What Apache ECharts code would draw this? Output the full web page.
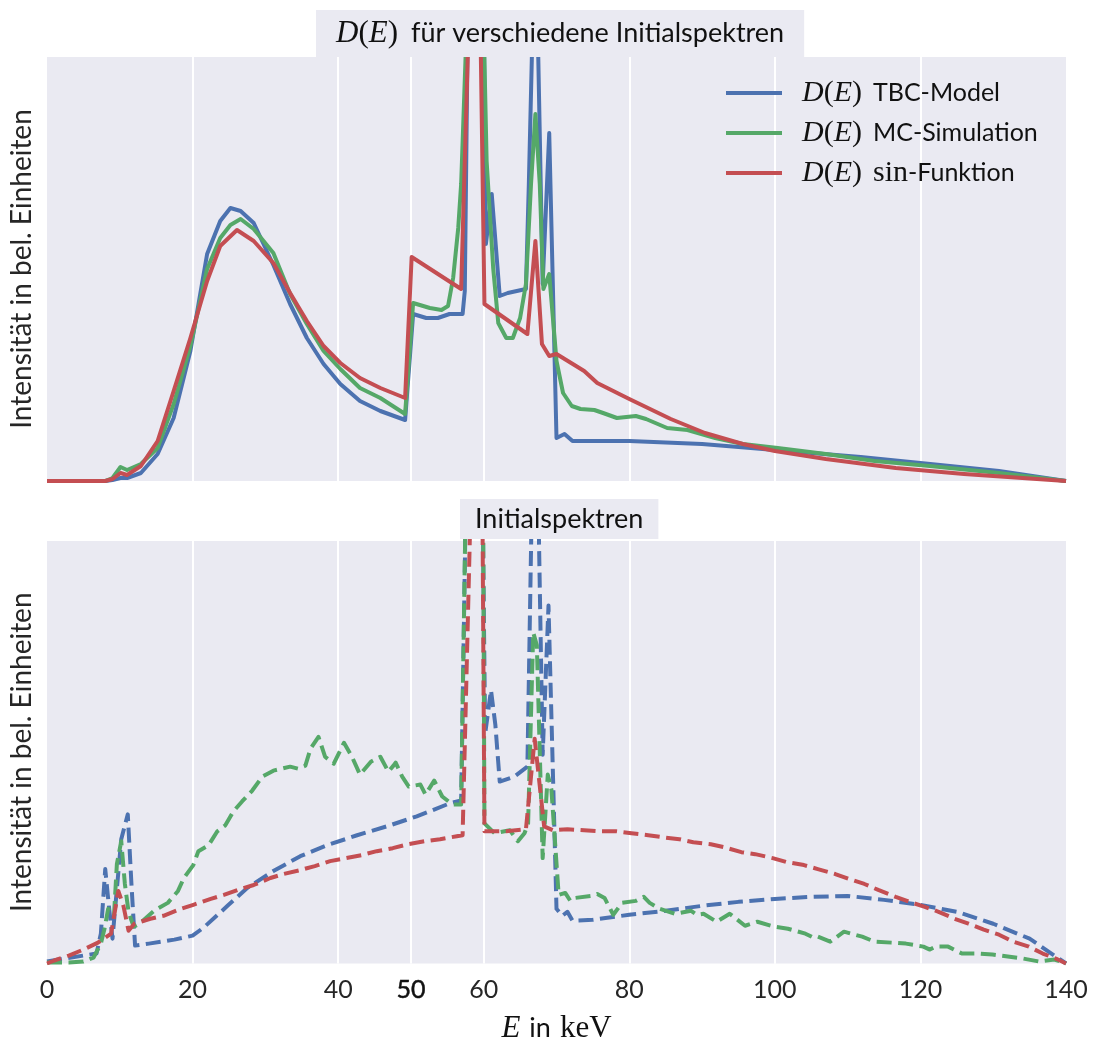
<!DOCTYPE html>
<html><head><meta charset="utf-8">
<script src="https://cdn.jsdelivr.net/npm/echarts@6/dist/echarts.min.js"></script>
<style>html,body{margin:0;padding:0;background:#fff}#c{width:1094px;height:1045px}</style>
</head><body><div id="c"></div>
<script>
// ---- data: [E in keV, intensity in arbitrary units] ----
const energyTicks = [0, 20, 40, 60, 80, 100, 120, 140];
const extraTick = 50;

// D(E) (top panel)
const tbcD = [[0,0],[8,0],[9,1],[10.1,3],[11,3],[12.9,8],[15.2,27],[17.4,63],[19.7,130],[22,227],[23.8,260],[25.2,273],[26.6,270],[28.4,258],[31.1,216],[33.4,177],[35.7,143],[38,117],[40.3,97],[43,80],[45.8,70],[49.2,61],[50.3,167],[52.1,163],[53.7,163],[55.3,167],[57.1,167],[57.4,190],[59,1230],[60.3,237],[61.1,287],[62.2,185],[63.3,188],[65.8,192],[66.2,297],[67.1,572],[68.1,197],[69,348],[70,43],[71.1,47],[72.2,40],[80,40],[90,37],[100,31],[111.8,24],[120,18],[130.8,10],[140,0]];
const mcD = [[0,0],[8,0],[9,3],[10.1,14],[11,11],[12.9,17],[15.2,33],[17.4,77],[19.7,135],[22,212],[23.8,243],[25.2,256],[26.6,262],[28.4,252],[31.1,228],[33.4,187],[35.7,157],[38,130],[40.3,112],[43,93],[45.8,83],[49.2,67],[50.3,178],[52.6,173],[54.2,171],[55.1,175],[55.8,203],[56.5,253],[56.9,297],[59.1,756],[60.4,320],[61.3,213],[62,158],[63.1,143],[64,143],[65,163],[65.8,197],[66.5,297],[67.1,367],[67.7,297],[68.2,192],[69,207],[70,120],[70.9,88],[72.1,75],[73.3,72],[75.2,71],[76.4,68],[78.3,63],[80.9,65],[82.3,62],[85.2,53],[88,51],[91.8,43],[95.6,37],[100.4,33],[107,27],[113.7,20],[121.3,15],[130.8,8],[140,0]];
const sinD = [[0,0],[8,0],[9,2],[10.1,8],[11,6],[12.9,15],[15.2,40],[17.4,90],[19.7,143],[22,200],[23.8,235],[26.1,251],[28.4,240],[31.1,218],[33.4,188],[35.7,160],[38,135],[40.3,118],[43,103],[45.8,93],[49.2,83],[50.1,224],[56.9,192],[59,730],[60.1,177],[66,147],[67.1,240],[68,137],[69,125],[70,127],[73.8,110],[75.6,98],[80,82],[85.7,62],[90.4,48],[95.6,37],[100,30],[107,22],[116.6,13],[126,7],[140,0]];

// initial spectra (bottom panel)
const tbcI = [[0,2],[2.5,5],[5,8],[6.8,10],[7.4,30],[8,95],[8.5,58],[9,25],[10.2,125],[11.1,150],[11.6,80],[12.1,18],[14,20],[17.5,24],[20,28],[21.5,36],[24.8,58],[27.5,76],[31.1,93],[34.8,108],[38.5,119],[42.6,129],[46.7,138],[50.8,148],[55.3,161],[56.9,164],[58.9,1100],[60.2,231],[61,275],[61.6,240],[62.2,183],[64.2,188],[66,198],[67.05,656],[68.1,210],[68.9,360],[70,55],[70.8,48],[71.5,52],[72.2,43],[75,44],[80,49],[85,53],[90,58],[95,62],[100,65],[105,67],[110,68],[115,64],[120,59],[125,52],[130,40],[135,25],[140,0]];
const mcI = [[0,1],[3,1],[5,2],[6.4,6],[7.4,20],[7.9,35],[8.4,55],[9.2,48],[9.6,100],[10.2,123],[10.7,80],[11.2,52],[11.9,37],[12.7,40],[14.7,53],[16.6,61],[18,73],[18.8,86],[20.1,99],[20.8,113],[22.2,119],[23.4,133],[24.5,139],[25.6,153],[26.8,163],[28.2,174],[29.6,188],[31.1,194],[33.4,198],[34.5,196],[35.5,199],[36.2,216],[37.3,228],[38.2,208],[39.4,201],[40.8,222],[41.9,208],[43,190],[44.5,203],[45.8,208],[46.9,193],[47.6,199],[47.9,202],[48.8,188],[49.7,178],[51.3,180],[52,170],[53.2,184],[54.3,168],[55.7,160],[56.9,160],[59.4,1380],[60.1,141],[61.5,131],[63.6,134],[64.7,123],[65.6,131],[66.1,141],[66.8,333],[67.3,320],[68.1,106],[68.8,190],[69.3,175],[70.3,69],[71.2,71],[71.9,63],[72.6,66],[74.7,68],[75.6,70],[76.6,66],[77.8,49],[79,61],[80.9,63],[82,67],[82.8,61],[84.2,55],[86.3,50],[88.5,53],[89.3,49],[90.2,50],[92,42],[93.8,50],[95.9,38],[97.6,42],[99.9,37],[101.8,35],[104.2,30],[105.3,26],[105.9,27],[107.6,22],[109.5,32],[112,27],[113.7,22],[116,21],[118,20],[120.4,17],[121.3,14],[122.1,17],[123.8,17],[125.7,10],[128,10],[129.9,9],[132,7],[134.1,5],[136.3,2],[138.4,4],[140,0]];
const sinI = [[0,0],[1,3],[3,8],[5,14],[7,21],[8.8,30],[9.8,73],[10.5,58],[11.2,33],[12,40],[14.2,45],[16,48],[18.4,55],[20.1,59],[22.5,65],[24.3,69],[26.6,75],[28.4,79],[30.7,86],[32.5,90],[34.8,94],[36.8,98],[38.9,103],[41,106],[43.2,109],[45.3,113],[47.5,116],[49.6,120],[51.9,123],[54,125],[56.3,128],[57.1,129],[59.5,850],[60.1,133],[63.1,133],[65.8,135],[67,226],[68.3,138],[69.5,134],[71.5,135],[73.8,134],[75.9,133],[78.2,133],[80.3,131],[82.6,129],[84.6,127],[86.9,125],[88.8,122],[91.2,120],[93,117],[95.4,112],[97.3,110],[99.7,106],[101.6,102],[104,99],[105.9,95],[108.3,90],[110.2,85],[112.3,80],[114.2,74],[116.6,67],[118.5,62],[120.6,57],[122.5,52],[124.7,45],[126.6,40],[128.7,34],[130.8,29],[132.7,22],[134.9,17],[136.8,10],[138.6,5],[140,0]];

const seriesNames = ['TBC-Model', 'MC-Simulation', 'sin-Funktion'];
const titles = ['für verschiedene Initialspektren', 'Initialspektren'];
const yLabel = 'Intensität in bel. Einheiten';

// ---- style ----
const COLORS = ['#4C72B0', '#55A868', '#C44E52'];
const BG = '#EAEAF2';
const SANS = 'Lato';
const SERIF = 'Liberation Serif';
const TXT = '#262626';
const FS = 25;
function richSet(sans, serif, lh, gap) {
  return {
    m: {fontFamily: SERIF, fontStyle: 'italic', fontWeight: 'normal', fontSize: serif, color: '#111', lineHeight: lh},
    r: {fontFamily: SERIF, fontWeight: 'normal', fontSize: serif, color: '#111', lineHeight: lh},
    t: {fontFamily: SANS, fontWeight: 'normal', fontSize: sans, color: '#111', lineHeight: lh},
    g: {fontFamily: SANS, fontSize: sans, width: gap, lineHeight: lh}
  };
}
const DE = '{m|D}{r|(}{m|E}{r|)}';

const chart = echarts.init(document.getElementById('c'), null, {renderer: 'canvas'});

function gridX(gi, withLabels) {
  return [
    {type: 'value', gridIndex: gi, min: 0, max: 140, interval: 20, position: 'bottom',
     axisLine: {show: false}, axisTick: {show: false},
     axisLabel: {show: withLabels, margin: 14, color: TXT, fontFamily: SANS, fontSize: FS},
     splitLine: {show: true, showMinLine: false, showMaxLine: false, lineStyle: {color: '#fff', width: 2}},
     name: withLabels ? '{m|E}{g| }{t|in}{g| }{r|keV}' : '', nameLocation: 'middle', nameGap: 50,
     nameTextStyle: {rich: richSet(27, 31, 30, 9)}},
    {type: 'value', gridIndex: gi, min: 0, max: 140, interval: extraTick, position: 'bottom',
     axisLine: {show: false}, axisTick: {show: false},
     axisLabel: {show: withLabels, margin: 14, color: '#111', fontFamily: SANS, fontSize: FS,
       textBorderColor: '#111', textBorderWidth: 0.5,
       formatter: v => (v === extraTick ? String(v) : '')},
     splitLine: {show: true, showMinLine: false, showMaxLine: false, lineStyle: {color: '#fff', width: 2}}}
  ];
}

function yAx(gi, max) {
  return {type: 'value', gridIndex: gi, min: 0, max: max,
    axisLine: {show: false}, axisTick: {show: false}, axisLabel: {show: false}, splitLine: {show: false},
    name: yLabel, nameLocation: 'middle', nameGap: 11, nameRotate: 90,
    nameTextStyle: {fontFamily: SANS, fontSize: 28, color: TXT}};
}

function line(name, data, ci, gi, dashed) {
  return {type: 'line', name: name, data: data, xAxisIndex: gi * 2, yAxisIndex: gi,
    symbol: 'none', showSymbol: false, clip: true, silent: true, animation: false,
    lineStyle: {color: COLORS[ci], width: 4, type: dashed ? [15, 6.5] : 'solid', cap: 'butt', join: 'round'},
    itemStyle: {color: COLORS[ci]}, z: 3};
}

chart.setOption({
  animation: false,
  backgroundColor: '#fff',
  title: [
    {text: DE + '{g| }{t|' + titles[0] + '}', left: 316, top: 10, backgroundColor: BG,
     padding: [8, 20, 8, 20], textStyle: {fontWeight: 'normal', rich: richSet(27, 31, 31, 13)}},
    {text: '{t|' + titles[1] + '}', left: 460, top: 497, backgroundColor: BG,
     padding: [6.5, 15, 6.5, 15], textStyle: {fontWeight: 'normal', rich: richSet(27, 31, 31, 13)}}
  ],
  legend: {
    data: seriesNames, orient: 'vertical', left: 726, top: 78, itemGap: 10, padding: 0,
    icon: 'rect', itemWidth: 56, itemHeight: 4,
    textStyle: {padding: [0, 0, 0, 15], rich: richSet(25, 30, 30, 11)},
    formatter: n => n === 'sin-Funktion' ? DE + '{g| }{r|sin}{t|-Funktion}' : DE + '{g| }{t|' + n + '}'
  },
  grid: [
    {left: 46, top: 57, width: 1020, height: 424, show: true, backgroundColor: BG, borderWidth: 0},
    {left: 46, top: 541, width: 1020, height: 425, show: true, backgroundColor: BG, borderWidth: 0}
  ],
  xAxis: [...gridX(0, false), ...gridX(1, true)],
  yAxis: [yAx(0, 424), yAx(1, 425)],
  series: [
    line(seriesNames[0], tbcD, 0, 0, false),
    line(seriesNames[1], mcD, 1, 0, false),
    line(seriesNames[2], sinD, 2, 0, false),
    line('Initial ' + seriesNames[0], tbcI, 0, 1, true),
    line('Initial ' + seriesNames[1], mcI, 1, 1, true),
    line('Initial ' + seriesNames[2], sinI, 2, 1, true)
  ]
});
</script></body></html>
